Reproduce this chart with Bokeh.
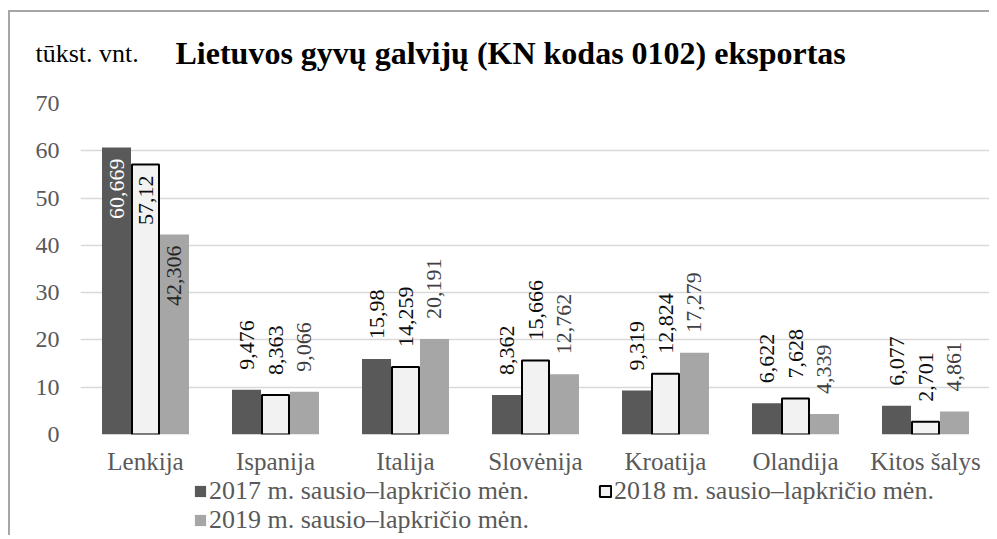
from bokeh.plotting import figure
from bokeh.layouts import column
from bokeh.models import ColumnDataSource, Legend, LegendItem, Label, FactorRange, Range1d
from bokeh.transform import dodge
from bokeh.core.properties import value
from bokeh.embed import file_html
from bokeh.resources import INLINE
import math

categories = ["Lenkija", "Ispanija", "Italija", "Slovėnija", "Kroatija", "Olandija", "Kitos šalys"]
s2017 = [60.669, 9.476, 15.98, 8.362, 9.319, 6.622, 6.077]
s2018 = [57.12, 8.363, 14.259, 15.666, 12.824, 7.628, 2.701]
s2019 = [42.306, 9.066, 20.191, 12.762, 17.279, 4.339, 4.861]
series_names = ["2017 m. sausio–lapkričio mėn.", "2018 m. sausio–lapkričio mėn.", "2019 m. sausio–lapkričio mėn."]
series_colors = ["#595959", "#f2f2f2", "#a6a6a6"]
y_ticks = [0, 10, 20, 30, 40, 50, 60, 70]
title_text = "Lietuvos gyvų galvijų (KN kodas 0102) eksportas"
unit_text = "tūkst. vnt."

FONT = "Liberation Serif"
BORDER = "2px solid #a6a6a6"
WIDTH = 981

def fmt(v):
    return ("%g" % v).replace(".", ",")

# ---- header (title row) ----
H_HEAD = 78
head = figure(width=WIDTH, height=H_HEAD, x_range=Range1d(0, WIDTH), y_range=Range1d(0, H_HEAD),
              output_backend="svg", toolbar_location=None,
              x_axis_location=None, y_axis_location=None,
              min_border=0, min_border_left=0, min_border_right=0, min_border_top=0, min_border_bottom=0)
head.frame_align = False
head.outline_line_color = None
head.xgrid.grid_line_color = None
head.ygrid.grid_line_color = None
head.styles = {"border-top": BORDER, "border-left": BORDER}
head.add_layout(Label(x=25, y=37, text=unit_text, text_font=FONT, text_font_size="26px",
                      text_color="#000000", text_baseline="alphabetic"))
head.add_layout(Label(x=165, y=38, text=title_text, text_font=FONT, text_font_size="32px",
                      text_font_style="bold", text_color="#000000", text_baseline="alphabetic"))

# ---- main chart ----
p = figure(width=WIDTH, height=389, x_range=FactorRange(*categories, range_padding=0), y_range=(0, 70),
           output_backend="svg", toolbar_location=None,
           min_border_left=70, min_border_right=1, min_border_top=15, min_border_bottom=43)
p.frame_align = False
p.styles = {"border-left": BORDER}
p.outline_line_color = None
p.x_range.range_padding = 0

src = ColumnDataSource(dict(cat=categories, a=s2017, b=s2018, c=s2019))
W = 0.223
p.vbar(x=dodge("cat", -W, range=p.x_range), top="a", width=W, source=src,
       fill_color=series_colors[0], line_color=None)
p.vbar(x=dodge("cat", 0, range=p.x_range), top="b", width=W - 0.015, source=src,
       fill_color=series_colors[1], line_color="#000000", line_width=2)
p.vbar(x=dodge("cat", W, range=p.x_range), top="c", width=W, source=src,
       fill_color=series_colors[2], line_color=None)

# data labels: first category inside end, others outside end
inside = ColumnDataSource(dict(cat=[categories[0]], a=[s2017[0]], b=[s2018[0]], c=[s2019[0]],
                               la=[fmt(s2017[0])], lb=[fmt(s2018[0])], lc=[fmt(s2019[0])]))
outside = ColumnDataSource(dict(cat=categories[1:], a=s2017[1:], b=s2018[1:], c=s2019[1:],
                                la=[fmt(v) for v in s2017[1:]], lb=[fmt(v) for v in s2018[1:]],
                                lc=[fmt(v) for v in s2019[1:]]))
for key, lab, off, col_in, col_out in [("a", "la", -W, "#ffffff", "#0d0d0d"),
                                       ("b", "lb", 0, "#0d0d0d", "#0d0d0d"),
                                       ("c", "lc", W, "#262626", "#404040")]:
    p.text(x=dodge("cat", off, range=p.x_range), y=key, text=lab, source=inside, angle=math.pi / 2,
           text_align="right", text_baseline="middle", y_offset=11,
           text_font=value(FONT), text_font_size="22px", text_color=col_in)
    p.text(x=dodge("cat", off, range=p.x_range), y=key, text=lab, source=outside, angle=math.pi / 2,
           text_align="left", text_baseline="middle", y_offset=-20,
           text_font=value(FONT), text_font_size="22px", text_color=col_out)

# axes
p.xaxis.axis_line_color = None
p.xaxis.major_tick_line_color = None
p.xaxis.minor_tick_line_color = None
p.xaxis.major_label_text_font = FONT
p.xaxis.major_label_text_font_size = "25px"
p.xaxis.major_label_text_color = "#595959"
p.xaxis.major_label_standoff = 7
p.yaxis.axis_line_color = None
p.yaxis.major_tick_line_color = None
p.yaxis.minor_tick_line_color = None
p.yaxis.ticker = y_ticks
p.yaxis.major_label_text_font = FONT
p.yaxis.major_label_text_font_size = "24px"
p.yaxis.major_label_text_color = "#595959"
p.yaxis.major_label_standoff = 15
p.xgrid.grid_line_color = None
p.ygrid.grid_line_color = "#d9d9d9"
p.ygrid.grid_line_width = 1.5
p.ygrid.ticker = y_ticks

# ---- footer (legend) ----
H_FOOT = 58
foot = figure(width=WIDTH, height=H_FOOT, x_range=FactorRange(*categories), y_range=Range1d(0, 70),
              output_backend="svg", toolbar_location=None,
              x_axis_location=None, y_axis_location=None,
              min_border=0, min_border_left=0, min_border_right=0, min_border_top=0, min_border_bottom=0)
foot.frame_align = False
foot.styles = {"border-left": BORDER}
foot.outline_line_color = None
foot.xgrid.grid_line_color = None
foot.ygrid.grid_line_color = None
# legend swatches: hidden renderers styled like the series (same data)
k1 = foot.vbar(x="cat", top="a", width=W, source=src, fill_color=series_colors[0], line_color=None)
k2 = foot.vbar(x="cat", top="b", width=W, source=src, fill_color=series_colors[1],
               line_color="#000000", line_width=2)
k3 = foot.vbar(x="cat", top="c", width=W, source=src, fill_color=series_colors[2], line_color=None)
for k in (k1, k2, k3):
    k.visible = False

leg_kw = dict(orientation="horizontal", border_line_color=None, background_fill_alpha=0,
              inactive_fill_alpha=0,
              label_text_font=FONT, label_text_font_size="26px", label_text_color="#595959",
              glyph_width=14, glyph_height=14, spacing=3, label_standoff=2, label_width=386,
              padding=0, margin=0, click_policy="none")
leg1 = Legend(items=[LegendItem(label=series_names[0], renderers=[k1]),
                     LegendItem(label=series_names[1], renderers=[k2])],
              location=(183, 29), **leg_kw)
leg2 = Legend(items=[LegendItem(label=series_names[2], renderers=[k3])],
              location=(183, 0), **leg_kw)
foot.add_layout(leg1, "center")
foot.add_layout(leg2, "center")

layout = column(head, p, foot, spacing=0, margin=(10, 0, 0, 8))

open("out.html", "w").write(file_html(layout, INLINE))
